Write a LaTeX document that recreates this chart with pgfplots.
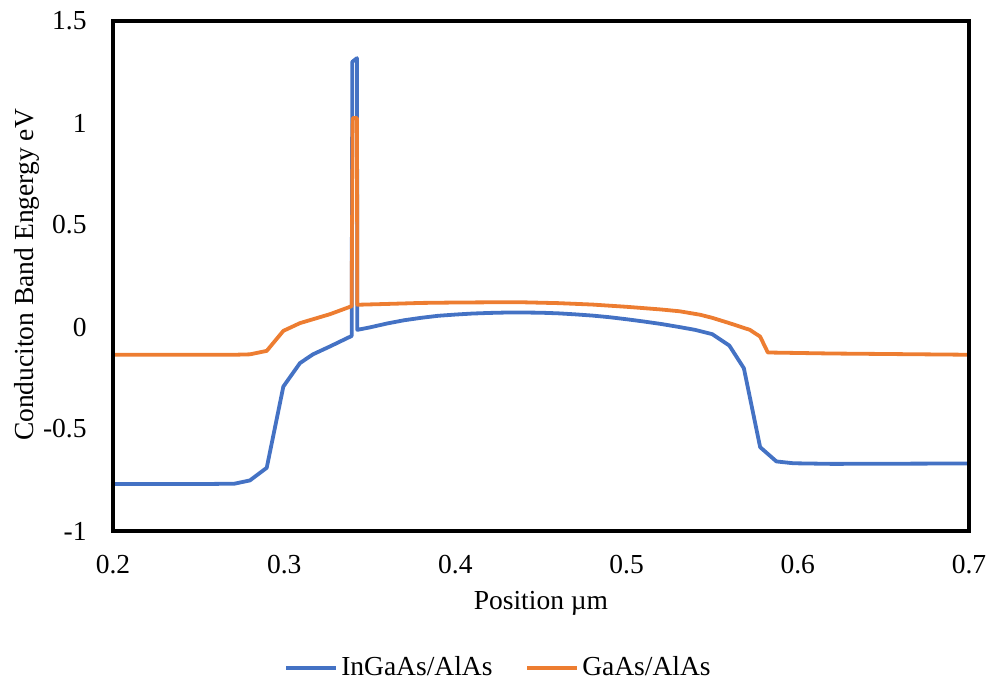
\documentclass[border=0pt]{standalone}
\usepackage{fontspec}
\setmainfont{Liberation Serif}
\usepackage{pgfplots}
\pgfplotsset{compat=1.18}

\definecolor{exblue}{HTML}{4472C4}
\definecolor{exorange}{HTML}{ED7D31}

\newcommand{\chartfont}{\fontsize{13.75}{16}\selectfont}

\begin{document}
\begin{tikzpicture}
\chartfont
\begin{axis}[
  at={(56.5pt,77pt)}, anchor=south west,
  scale only axis,
  width=428pt, height=255pt,
  xmin=0.2, xmax=0.7, ymin=-1, ymax=1.5,
  xtick={0.2,0.3,0.4,0.5,0.6,0.7},
  xticklabels={0.2,0.3,0.4,0.5,0.6,0.7},
  ytick={-1,-0.5,0,0.5,1,1.5},
  yticklabels={-1,-0.5,0,0.5,1,1.5},
  tick style={draw=none},
  major tick length=0pt,
  xticklabel style={anchor=center, inner sep=0pt, yshift=-17pt, font=\chartfont},
  yticklabel style={anchor=east, inner sep=0pt, xshift=-13pt, font=\chartfont},
  axis line style={draw=none},
  clip mode=individual,
  xlabel={Position µm},
  ylabel={Conduciton Band Engergy eV},
  xlabel style={at={(axis description cs:0.5,-0.141)}, anchor=center, font=\chartfont},
  ylabel style={at={(axis description cs:-0.1005,0.502)}, anchor=center, font=\chartfont},
  legend columns=2,
  legend style={draw=none, at={(axis description cs:0.451,-0.269)}, anchor=center,
    font=\chartfont,
    /tikz/every even column/.append style={column sep=15pt},
    nodes={inner sep=1.5pt}},
  legend image code/.code={\draw[#1] (0pt,0pt) -- (25pt,0pt);},
  every axis plot/.append style={line width=1.9pt, line join=round},
]
% InGaAs/AlAs conduction band edge
\addplot[exblue] coordinates {
(0.200,-0.770) (0.250,-0.770) (0.271,-0.768) (0.280,-0.752) (0.2898,-0.690)
(0.2995,-0.292) (0.3092,-0.177) (0.3168,-0.134) (0.3268,-0.095) (0.3394,-0.044)
(0.3398,1.300) (0.3425,1.318) (0.3427,-0.014)
(0.350,-0.002) (0.360,0.017) (0.370,0.033) (0.380,0.045) (0.390,0.055)
(0.400,0.061) (0.410,0.066) (0.420,0.069) (0.430,0.071) (0.440,0.071)
(0.450,0.070) (0.460,0.067) (0.470,0.062) (0.480,0.056) (0.490,0.048)
(0.500,0.038) (0.510,0.027) (0.520,0.015) (0.530,0.001) (0.540,-0.014)
(0.550,-0.035) (0.560,-0.091) (0.5685,-0.202) (0.578,-0.589) (0.5875,-0.659)
(0.5975,-0.668) (0.620,-0.671) (0.700,-0.669)
};
\addlegendentry{InGaAs/AlAs}
% GaAs/AlAs conduction band edge
\addplot[exorange] coordinates {
(0.200,-0.136) (0.271,-0.136) (0.280,-0.134) (0.2898,-0.117) (0.2995,-0.019)
(0.3092,0.019) (0.3168,0.038) (0.3268,0.063) (0.3394,0.102)
(0.3400,1.024) (0.3425,1.024) (0.3427,0.109)
(0.360,0.113) (0.380,0.118) (0.400,0.120) (0.420,0.121) (0.440,0.121)
(0.460,0.117) (0.480,0.110) (0.500,0.099) (0.520,0.086) (0.531,0.077)
(0.543,0.060) (0.550,0.045) (0.560,0.019) (0.572,-0.014) (0.578,-0.047)
(0.5825,-0.125) (0.620,-0.130) (0.700,-0.136)
};
\addlegendentry{GaAs/AlAs}
\draw[black, line width=2.3pt, line join=miter] (rel axis cs:0,0) rectangle (rel axis cs:1,1);
\end{axis}
\pgfresetboundingbox
\path (0,0) rectangle (495pt,342.5pt);
\end{tikzpicture}
\end{document}
